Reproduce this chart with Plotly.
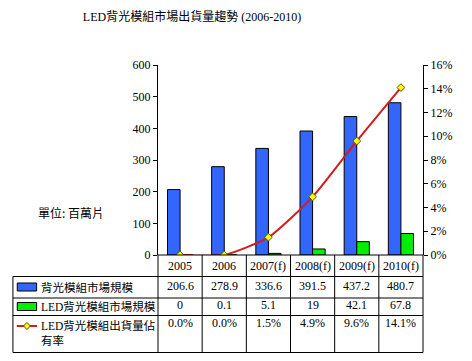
import plotly.graph_objects as go

# ---- data ----
categories = ["2005", "2006", "2007(f)", "2008(f)", "2009(f)", "2010(f)"]
backlight_market = [206.6, 278.9, 336.6, 391.5, 437.2, 480.7]
led_backlight_market = [0, 0.1, 5.1, 19, 42.1, 67.8]
led_share_pct = [0.0, 0.0, 1.5, 4.9, 9.6, 14.1]

series_names = ["背光模組市場規模", "LED背光模組市場規模", "LED背光模組出貨量佔<br>有率"]
title_text = "LED背光模組市場出貨量趨勢 (2006-2010)"
unit_text = "單位: 百萬片"

# ---- layout geometry (target page pixels; page body has 8px margin) ----
OFF = 8
W, H = 472 - 2 * OFF, 361 - 2 * OFF
PL, PR, PT, PB = 158, 432, 65, 255  # plot area in page pixels

def px(x):
    return (x - PL) / (PR - PL)

def py(y):
    return (PB - y) / (PB - PT)

SERIF = "Liberation Serif, Noto Sans CJK TC, serif"
BLUE = "#3366FF"
GREEN = "#00EE00"
RED = "#D41C1C"
YELLOW = "#FFFF00"

fig = go.Figure()
fig.add_trace(go.Bar(x=categories, y=backlight_market, name=series_names[0],
                     marker=dict(color=BLUE, line=dict(color="black", width=1))))
fig.add_trace(go.Bar(x=categories, y=led_backlight_market, name=series_names[1],
                     marker=dict(color=GREEN, line=dict(color="black", width=1))))
fig.add_trace(go.Scatter(x=categories, y=led_share_pct, name=series_names[2], yaxis="y2",
                         mode="lines+markers",
                         line=dict(color=RED, width=2, shape="spline", smoothing=0.6),
                         marker=dict(symbol="diamond", size=6, color=YELLOW,
                                     line=dict(color="#555500", width=1))))

shapes = []
annotations = []

def hline(x0, x1, y):
    shapes.append(dict(type="line", xref="paper", yref="paper", x0=px(x0), x1=px(x1),
                       y0=py(y), y1=py(y), line=dict(color="black", width=1)))

def vline(x, y0, y1):
    shapes.append(dict(type="line", xref="paper", yref="paper", x0=px(x), x1=px(x),
                       y0=py(y0), y1=py(y1), line=dict(color="black", width=1)))

# table rows (pixel y)
row_hdr_top, row1_top, row2_top, row3_top, tbl_bot = 255, 276.5, 298, 315.5, 352.5
TL = 8
hline(PL, PR, row_hdr_top)
hline(TL, PR, row1_top)
hline(TL, PR, row2_top)
hline(TL, PR, row3_top)
hline(TL, PR, tbl_bot)
vline(TL, row1_top, tbl_bot)
ncat = len(categories)
colw = (PR - PL) / ncat
for i in range(ncat + 1):
    vline(PL + i * colw, row_hdr_top, tbl_bot)

# table text from data (x = category index on the category axis)
def cell(i, y, text):
    annotations.append(dict(x=i, xref="x", y=py(y), yref="paper", text=text,
                            showarrow=False, xanchor="center", yanchor="middle",
                            font=dict(family=SERIF, size=12, color="black")))

for i, c in enumerate(categories):
    cell(i, 266, c)
    cell(i, 286, f"{backlight_market[i]:g}")
    cell(i, 305, f"{led_backlight_market[i]:g}")
    cell(i, 322.5, f"{led_share_pct[i]:.1f}%")

# legend keys
shapes.append(dict(type="rect", xref="paper", yref="paper", x0=px(12.5), x1=px(32.5),
                   y0=py(291), y1=py(283), fillcolor=BLUE, line=dict(color="black", width=1)))
shapes.append(dict(type="rect", xref="paper", yref="paper", x0=px(12.5), x1=px(32.5),
                   y0=py(310.5), y1=py(302.5), fillcolor=GREEN, line=dict(color="black", width=1)))
shapes.append(dict(type="line", xref="paper", yref="paper", x0=px(12), x1=px(33),
                   y0=py(326), y1=py(326), line=dict(color=RED, width=2)))
dx, dy = 3.5, 3.5
cx, cy = 22.5, 326
shapes.append(dict(type="path", xref="paper", yref="paper",
                   path=f"M {px(cx-dx)},{py(cy)} L {px(cx)},{py(cy-dy)} L {px(cx+dx)},{py(cy)} L {px(cx)},{py(cy+dy)} Z",
                   fillcolor=YELLOW, line=dict(color="#555500", width=1)))

legend_y = [287, 306, 332.5]
for name, yy in zip(series_names, legend_y):
    annotations.append(dict(x=px(35), xref="paper", y=py(yy), yref="paper", text=name,
                            showarrow=False, xanchor="left", yanchor="middle", align="left",
                            font=dict(family=SERIF, size=11.5, color="black")))

annotations.append(dict(x=px(32), xref="paper", y=py(212), yref="paper", text=unit_text,
                        showarrow=False, xanchor="left", yanchor="middle",
                        font=dict(family="Noto Sans CJK TC, sans-serif", size=12, color="black")))

fig.update_layout(
    width=W, height=H,
    margin=dict(l=PL - OFF, r=W - (PR - OFF), t=PT - OFF, b=H - (PB - OFF)),
    paper_bgcolor="white", plot_bgcolor="white",
    showlegend=False,
    barmode="group", bargap=0.43, bargroupgap=0,
    title=dict(text=title_text, x=(192 - OFF) / W, xanchor="center", xref="container",
               y=1 - (17 - OFF) / H, yanchor="middle", yref="container",
               font=dict(family=SERIF, size=12, color="black")),
    xaxis=dict(showticklabels=False, ticks="", showline=False, showgrid=False,
               range=[-0.5, ncat - 0.5]),
    yaxis=dict(range=[0, 600], dtick=100, showgrid=False, zeroline=False,
               showline=True, linecolor="black", linewidth=1,
               ticks="outside", ticklen=4, tickcolor="black",
               tickfont=dict(family=SERIF, size=12, color="black")),
    yaxis2=dict(range=[0, 16], dtick=2, ticksuffix="%", overlaying="y", side="right",
                showgrid=False, zeroline=False,
                showline=True, linecolor="black", linewidth=1,
                ticks="outside", ticklen=4, tickcolor="black",
                tickfont=dict(family=SERIF, size=12, color="black")),
    shapes=shapes,
    annotations=annotations,
)

fig.write_html("out.html")
